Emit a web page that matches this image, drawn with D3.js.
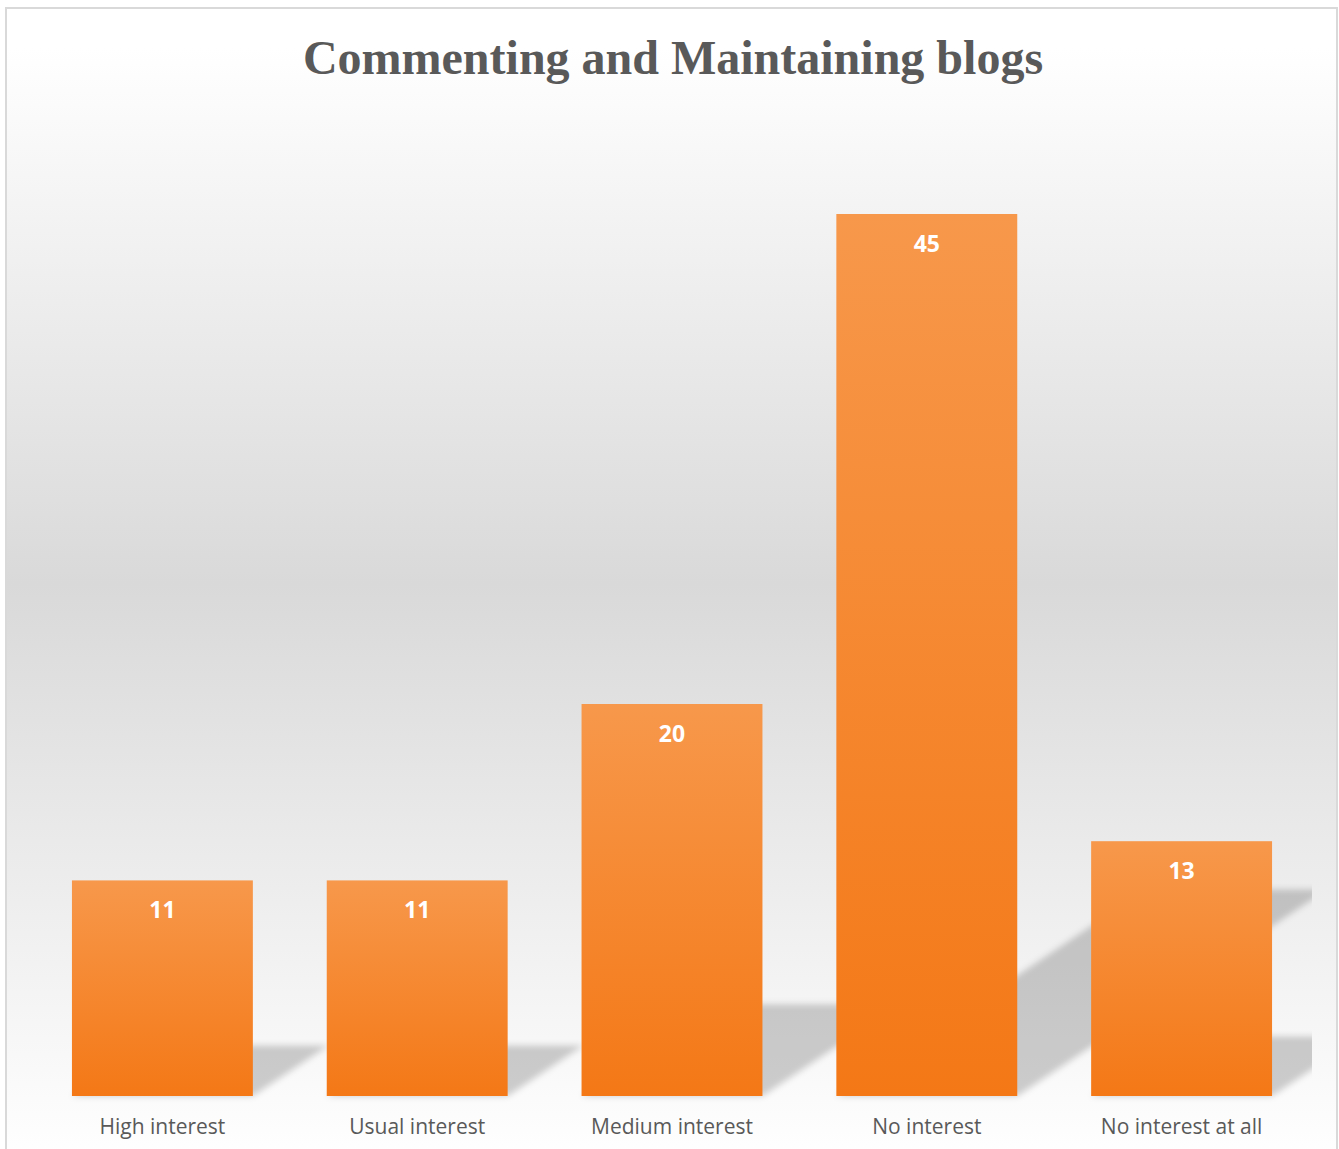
<!DOCTYPE html>
<html>
<head>
<meta charset="utf-8">
<script src="https://cdn.jsdelivr.net/npm/d3@7"></script>
<style>
  html, body { margin: 0; padding: 0; background: #ffffff; }
  svg { display: block; }
</style>
</head>
<body>
<svg id="chart" width="1339" height="1149"></svg>
<script>
// Survey responses: interest in commenting on and maintaining blogs
const categories = ["High interest", "Usual interest", "Medium interest", "No interest", "No interest at all"];
const counts = [11, 11, 20, 45, 13];
const chartTitle = "Commenting and Maintaining blogs";

const W = 1339, H = 1149;
const svg = d3.select("#chart");
const defs = svg.append("defs");

// Chart-area background: white fading to grey in the middle and back again
const bg = defs.append("linearGradient")
  .attr("id", "bgGrad").attr("gradientUnits", "userSpaceOnUse")
  .attr("x1", 0).attr("y1", 8).attr("x2", 0).attr("y2", 1160);
[[0, "#ffffff"], [0.035, "#ffffff"], [0.5, "#d9d9d9"], [0.75, "#ececec"], [1, "#ffffff"]]
  .forEach(([o, c]) => bg.append("stop").attr("offset", o).attr("stop-color", c));

// Orange bar fill, lighter at the top
const barGrad = defs.append("linearGradient")
  .attr("id", "barGrad").attr("x1", 0).attr("y1", 0).attr("x2", 0).attr("y2", 1);
barGrad.append("stop").attr("offset", 0).attr("stop-color", "#f7984b");
barGrad.append("stop").attr("offset", 1).attr("stop-color", "#f47816");

// Soft edge for the perspective shadows
defs.append("filter").attr("id", "shadowBlur")
  .attr("x", "-20%").attr("y", "-20%").attr("width", "140%").attr("height", "140%")
  .append("feGaussianBlur").attr("stdDeviation", 3);

defs.append("clipPath").attr("id", "plotClip")
  .append("rect").attr("x", 7).attr("y", 8).attr("width", 1305).attr("height", 1100);

// Background and frame
svg.append("rect").attr("x", 6).attr("y", 8).attr("width", 1331).attr("height", H)
  .attr("fill", "url(#bgGrad)");
svg.append("rect").attr("x", 6).attr("y", 8).attr("width", 1331).attr("height", H + 10)
  .attr("fill", "none").attr("stroke", "#d9d9d9").attr("stroke-width", 2);

// Scales
const x = d3.scaleBand().domain(categories).range([35, 1309]).paddingInner(0.29).paddingOuter(0.145);
const y = d3.scaleLinear().domain([0, 50]).range([1096, 116]);

const data = categories.map((c, i) => ({ cat: c, val: counts[i] }));

// Perspective shadows cast up and to the right of each bar
const shadowH = 0.234, shadowShift = 0.351;
svg.append("g").attr("clip-path", "url(#plotClip)")
  .selectAll("path").data(data).join("path")
  .attr("d", d => {
    const x0 = x(d.cat), x1 = x0 + x.bandwidth();
    const b = y(0), h = y(0) - y(d.val);
    const top = b - h * shadowH, dx = h * shadowShift;
    return `M${x0},${b}L${x1},${b}L${x1 + dx},${top}L${x0 + dx},${top}Z`;
  })
  .attr("fill", "#000").attr("fill-opacity", 0.19)
  .attr("filter", "url(#shadowBlur)");

// Bars
svg.append("g").selectAll("rect").data(data).join("rect")
  .attr("x", d => x(d.cat)).attr("width", x.bandwidth())
  .attr("y", d => y(d.val)).attr("height", d => y(0) - y(d.val))
  .attr("fill", "url(#barGrad)");

// Value labels inside the top of each bar
svg.append("g").selectAll("text").data(data).join("text")
  .attr("x", d => x(d.cat) + x.bandwidth() / 2)
  .attr("y", d => y(d.val) + 38)
  .attr("text-anchor", "middle")
  .attr("font-family", "'Open Sans', 'Noto Sans', sans-serif")
  .attr("font-weight", "bold").attr("font-size", 23)
  .attr("fill", "#ffffff")
  .text(d => d.val);

// Category axis labels
const xAxis = d3.axisBottom(x).tickSize(0).tickPadding(0);
const gx = svg.append("g").attr("transform", `translate(0,${y(0)})`).call(xAxis);
gx.select(".domain").remove();
gx.selectAll("text")
  .attr("y", 38).attr("dy", 0)
  .attr("font-family", "'Open Sans', 'Noto Sans', sans-serif")
  .attr("font-size", 21).attr("fill", "#595959");

// Title
svg.append("text")
  .attr("x", 673).attr("y", 74)
  .attr("text-anchor", "middle")
  .attr("font-family", "'Liberation Serif', 'Times New Roman', serif")
  .attr("font-weight", "bold").attr("font-size", 48)
  .attr("fill", "#595959")
  .text(chartTitle);
</script>
</body>
</html>
